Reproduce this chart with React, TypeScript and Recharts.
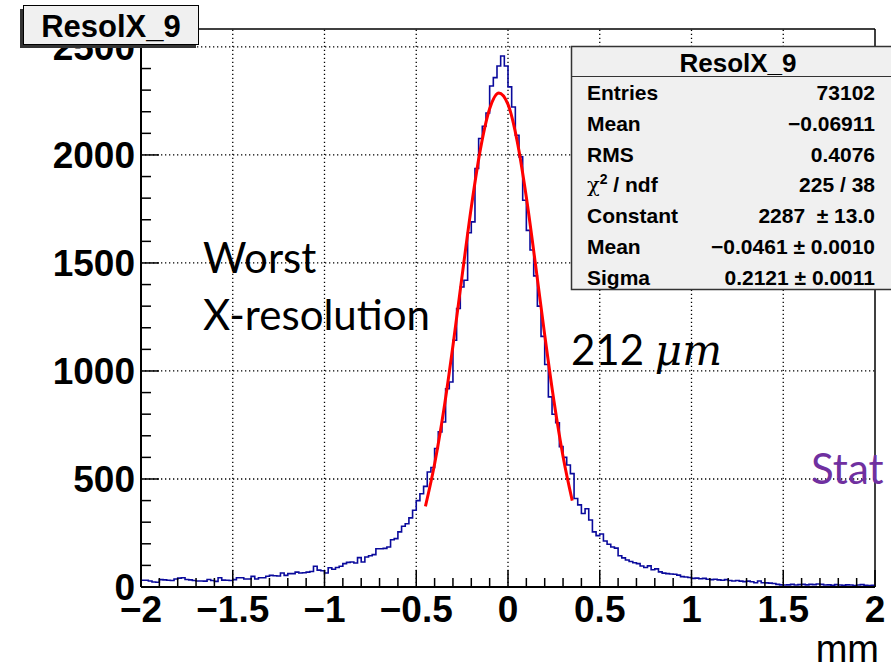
import { ComposedChart, Line, XAxis, YAxis, ReferenceLine } from 'recharts';

// histogram ResolX_9: 200 bins of 0.02 mm from -2 to 2
const BIN_LOW = -2;
const BIN_WIDTH = 0.02;

// bin contents, bins starting at -2.00 ... -0.02
const countsNeg = [
  31, 31, 28, 23, 22, 34, 33, 31, 30, 37,
  41, 43, 35, 33, 30, 28, 28, 27, 35, 30,
  26, 43, 32, 31, 30, 34, 43, 43, 37, 37,
  49, 37, 43, 43, 50, 54, 52, 51, 65, 54,
  62, 62, 69, 65, 66, 69, 72, 96, 78, 75,
  65, 89, 82, 90, 96, 108, 114, 116, 111, 136,
  116, 139, 145, 150, 177, 177, 179, 185, 219, 224,
  255, 281, 293, 320, 355, 400, 432, 466, 532, 553,
  641, 718, 764, 918, 949, 1142, 1289, 1389, 1420, 1640,
  1690, 1937, 2076, 2133, 2194, 2319, 2358, 2412, 2458, 2412,
];

// bin contents, bins starting at 0.00 ... 1.98
const countsPos = [
  2315, 2222, 2091, 1991, 1790, 1651, 1560, 1440, 1300, 1160,
  1030, 880, 800, 760, 650, 600, 565, 525, 410, 380,
  340, 362, 310, 255, 238, 245, 213, 198, 185, 180,
  145, 135, 125, 118, 112, 108, 97, 90, 98, 80,
  84, 70, 64, 62, 60, 59, 55, 48, 46, 44,
  40, 41, 38, 40, 36, 34, 36, 33, 31, 34,
  30, 28, 30, 27, 25, 27, 24, 20, 28, 20,
  19, 18, 16, 12, 10, 9, 10, 12, 9, 11,
  12, 10, 12, 11, 14, 12, 9, 10, 8, 11,
  9, 8, 10, 9, 7, 9, 11, 8, 7, 8,
];

// gaussian fit curve
const fitX = [-0.45, -0.4, -0.35, -0.3, -0.25, -0.2, -0.15, -0.1, -0.05, 0, 0.05, 0.1, 0.15, 0.2, 0.25, 0.3, 0.35];
const fitY = [373, 569, 819, 1117, 1441, 1758, 2028, 2214, 2287, 2234, 2064, 1804, 1492, 1167, 863, 604, 400];

const xTicks = [
  -2, -1.9, -1.8, -1.7, -1.6, -1.5, -1.4, -1.3, -1.2, -1.1,
  -1, -0.9, -0.8, -0.7, -0.6, -0.5, -0.4, -0.3, -0.2, -0.1,
  0, 0.1, 0.2, 0.3, 0.4, 0.5, 0.6, 0.7, 0.8, 0.9,
  1, 1.1, 1.2, 1.3, 1.4, 1.5, 1.6, 1.7, 1.8, 1.9, 2,
];
const yTicks = [
  0, 100, 200, 300, 400, 500, 600, 700, 800, 900, 1000, 1100, 1200,
  1300, 1400, 1500, 1600, 1700, 1800, 1900, 2000, 2100, 2200, 2300, 2400, 2500,
];
const xGrid = [-1.5, -1, -0.5, 0, 0.5, 1, 1.5];
const yGrid = [500, 1000, 1500, 2000, 2500];
const Y_MAX = 2583;

const statsLabels = ['Entries', 'Mean', 'RMS', 'chi2', 'Constant', 'Mean', 'Sigma'];
const statsValues = [
  '73102',
  '\u22120.06911',
  '0.4076',
  '225 / 38',
  '2287\u00a0\u00a0\u00b1 13.0',
  '\u22120.0461 \u00b1 0.0010',
  '0.2121 \u00b1 0.0011',
];

const histData = [...countsNeg, ...countsPos].map((c, i) => ({
  x: +(BIN_LOW + i * BIN_WIDTH).toFixed(2),
  y: c,
}));
histData.push({ x: 2, y: countsPos[countsPos.length - 1] });

const fitData = fitX.map((x, i) => ({ x, y: fitY[i] }));

const AXIS_FONT = '"Liberation Sans", Arial, Helvetica, sans-serif';
const SLIDE_FONT = 'Lato, "Open Sans", sans-serif';

const fmt = (v: number) => (v < 0 ? '\u2212' + Math.abs(v) : String(v));

function YTick(props: any) {
  const { x, y, payload } = props;
  const v = payload.value as number;
  const major = v % 500 === 0;
  return (
    <g>
      <line x1={x} x2={x + (major ? 18 : 10)} y1={y} y2={y} stroke="#000" strokeWidth={1.5} />
      {major && (
        <text x={x - 6} y={y} dy="0.36em" textAnchor="end" fontFamily={AXIS_FONT} fontWeight="bold" fontSize={37} fill="#000">
          {v}
        </text>
      )}
    </g>
  );
}

function XTick(props: any) {
  const { x, y, payload } = props;
  const v = payload.value as number;
  const major = Math.abs(v * 2 - Math.round(v * 2)) < 1e-6;
  return (
    <g>
      <line x1={x} x2={x} y1={y} y2={y - (major ? 17 : 9)} stroke="#000" strokeWidth={1.5} />
      {major && (
        <text x={x} y={y + 35} textAnchor="middle" fontFamily={AXIS_FONT} fontWeight="bold" fontSize={37} fill="#000">
          {fmt(v)}
        </text>
      )}
    </g>
  );
}

export default function App() {
  return (
    <div style={{ position: 'absolute', left: 0, top: 0, width: 891, height: 669, overflow: 'hidden', background: '#fff' }}>
      <ComposedChart width={891} height={669} margin={{ top: 29, right: 16, bottom: 42, left: 41 }}>
        <XAxis
          type="number"
          dataKey="x"
          domain={[-2, 2]}
          ticks={xTicks}
          interval={0}
          allowDataOverflow
          height={40}
          tickSize={0}
          tickMargin={0}
          tickLine={false}
          axisLine={{ stroke: '#000', strokeWidth: 2 }}
          tick={<XTick />}
        />
        <YAxis
          type="number"
          domain={[0, Y_MAX]}
          ticks={yTicks}
          interval={0}
          allowDataOverflow
          width={100}
          tickSize={0}
          tickMargin={0}
          tickLine={false}
          axisLine={{ stroke: '#000', strokeWidth: 2 }}
          tick={<YTick />}
        />
        {xGrid.map((g) => (
          <ReferenceLine key={'gx' + g} x={g} stroke="#000" strokeWidth={1.3} strokeDasharray="1.3 2.7" />
        ))}
        {yGrid.map((g) => (
          <ReferenceLine key={'gy' + g} y={g} stroke="#000" strokeWidth={1.3} strokeDasharray="1.3 2.7" />
        ))}
        <ReferenceLine y={Y_MAX} stroke="#000" strokeWidth={1.5} />
        <ReferenceLine x={2} stroke="#000" strokeWidth={1.5} />
        <Line
          data={histData}
          dataKey="y"
          type="stepAfter"
          stroke="#0a0a9c"
          strokeWidth={1.6}
          dot={false}
          activeDot={false}
          isAnimationActive={false}
        />
        <Line
          data={fitData}
          dataKey="y"
          type="monotone"
          stroke="#ff0000"
          strokeWidth={3}
          dot={false}
          activeDot={false}
          isAnimationActive={false}
        />
      </ComposedChart>

      <svg width={891} height={669} style={{ position: 'absolute', left: 0, top: 0, pointerEvents: 'none' }}>
        {/* slide annotations */}
        <text x={203} y={273} fontFamily={SLIDE_FONT} fontSize={42} fill="#000">Worst</text>
        <text x={203} y={330} fontFamily={SLIDE_FONT} fontSize={42} fill="#000">X-resolution</text>
        <text x={571} y={365} fontSize={42} fill="#000">
          <tspan fontFamily={SLIDE_FONT}>212 </tspan>
          <tspan fontFamily='"DejaVu Serif", serif' fontStyle="italic">μm</tspan>
        </text>
        <text x={811} y={484} fontFamily={SLIDE_FONT} fontSize={42} fill="#7030a0">Stat</text>
        <text x={879} y={662} textAnchor="end" fontFamily={AXIS_FONT} fontSize={38} fill="#000">mm</text>

        {/* title pave */}
        <rect x={20} y={9} width={176} height={39} fill="#333" />
        <rect x={23.5} y={5.5} width={175} height={39} fill="#f0f0f0" stroke="#000" strokeWidth={1} />
        <text x={111} y={36.5} textAnchor="middle" fontFamily={AXIS_FONT} fontWeight="bold" fontSize={31} fill="#000">
          ResolX_9
        </text>

        {/* stats box */}
        <rect x={571.5} y={46.5} width={340} height={243} fill="#f0f0f0" stroke="#333" strokeWidth={1.5} />
        <line x1={571.5} x2={891} y1={76.5} y2={76.5} stroke="#333" strokeWidth={1.2} />
        <text x={738} y={72} textAnchor="middle" fontFamily={AXIS_FONT} fontWeight="bold" fontSize={26} fill="#000">
          ResolX_9
        </text>
        {statsLabels.map((lab, i) => {
          const cy = 92.5 + i * 30.75;
          return (
            <g key={'s' + i}>
              <text x={587} y={cy + 7.5} fontFamily={AXIS_FONT} fontWeight="bold" fontSize={21} fill="#000">
                {lab === 'chi2' ? (
                  <>
                    <tspan fontWeight="normal" fontFamily='"DejaVu Serif", serif'>χ</tspan>
                    <tspan dy={-8} fontSize={14}>2</tspan>
                    <tspan dy={8}> / ndf</tspan>
                  </>
                ) : (
                  lab
                )}
              </text>
              <text x={875} y={cy + 7.5} textAnchor="end" fontFamily={AXIS_FONT} fontWeight="bold" fontSize={21} fill="#000">
                {statsValues[i]}
              </text>
            </g>
          );
        })}
      </svg>
    </div>
  );
}
